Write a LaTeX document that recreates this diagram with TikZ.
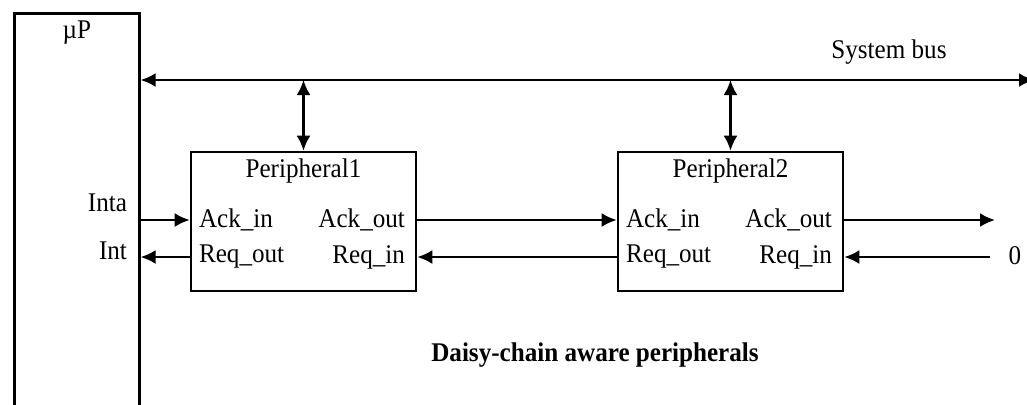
\documentclass[tikz,border=0pt]{standalone}
\usepackage{fontspec}
\setmainfont[FakeStretch=0.93]{Liberation Serif}
\usetikzlibrary{positioning,arrows.meta}

\begin{document}
\begin{tikzpicture}[x=0.5pt,y=-0.5pt,
      font=\fontsize{13.5}{16}\selectfont,
      >={Latex[length=7.5pt,width=7pt]},
      box/.style={draw,line width=1.3pt,minimum width=112.5pt,minimum height=69.5pt,inner sep=0pt},
      port/.style={inner sep=1.5pt},
      sig/.style={line width=1.2pt}]
    \useasboundingbox (0,0) rectangle (1027,404);
    % processor, runs off the bottom edge
    \node[draw,line width=1.3pt,anchor=north west,minimum width=62.5pt,minimum height=240pt,inner sep=0pt] (mp) at (13,12) {};
    \node[below=1pt of mp.north] (mplbl) {µP};
    % system bus
    \coordinate (bus) at (1034,80);
    \draw[sig,<->] (mp.east |- bus) -- (bus);
    \node (buslbl) at (889,52) {System bus};
    \foreach \n/\cx in {1/303.5,2/730.5} {
      \node[box] (p\n) at (\cx,221.5) {};
      \node[below=0.3pt of p\n.north] (t\n) {Peripheral\n};
      \node[port,anchor=west] (ai\n) at ([shift={(6,-1.5)}]p\n.west) {Ack\_in};
      \node[port,anchor=west] (ro\n) at ([shift={(6,35.5)}]p\n.west) {Req\_out};
      \node[port,anchor=east] (ao\n) at ([shift={(-9,-1.5)}]p\n.east) {Ack\_out};
      \node[port,anchor=east] (ri\n) at ([shift={(-9,35.5)}]p\n.east) {Req\_in};
      \draw[sig,<->] (p\n.north |- bus) -- (p\n.north);
    }
    % daisy chain
    \node[anchor=east] (inta) at (134,203) {Inta};
    \node[anchor=east] (int) at (134,251) {Int};
    \draw[sig,->] (mp.east |- ai1) -- (ai1 -| p1.west);
    \draw[sig,<-] (mp.east |- ro1) -- (ro1 -| p1.west);
    \draw[sig,->] (ao1 -| p1.east) -- (ai2 -| p2.west);
    \draw[sig,<-] (ri1 -| p1.east) -- (ro2 -| p2.west);
    \coordinate (ackend) at (995,218);
    \draw[sig,->] (ao2 -| p2.east) -- (ao2 -| ackend);
    \node[outer sep=6pt] (zero) at (1015,256) {0};
    \draw[sig,<-] (ri2 -| p2.east) -- (ri2 -| zero.west);
    \node[font=\fontsize{13.5}{16}\selectfont\bfseries] (cap) at (595,355) {Daisy-chain aware peripherals};
  \end{tikzpicture}
\end{document}
